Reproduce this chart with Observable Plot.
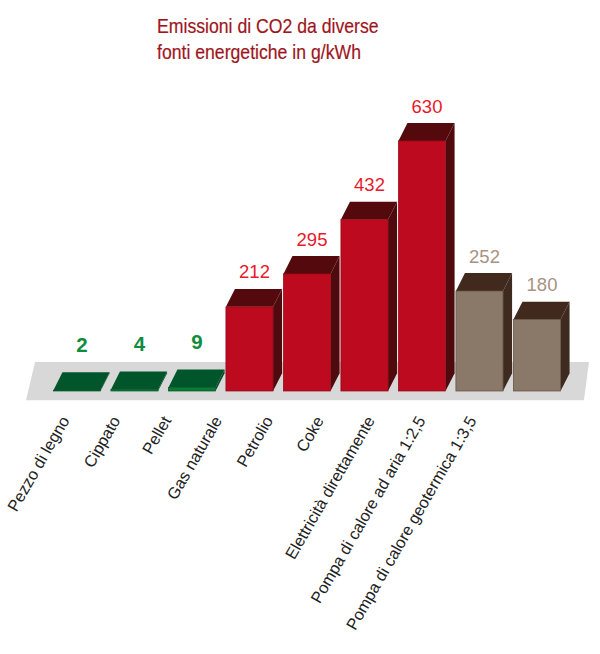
<!DOCTYPE html>
<html><head><meta charset="utf-8">
<script src="https://cdn.jsdelivr.net/npm/d3@7"></script>
<script src="https://cdn.jsdelivr.net/npm/@observablehq/plot@0.6"></script>
<style>
body{margin:0;background:#fff;}
#title{height:70px;box-sizing:border-box;padding-left:157px;padding-top:13px;font-family:"Liberation Sans",Arial,sans-serif;font-size:21px;line-height:26px;color:#9e1520;}
#title span{display:block;white-space:nowrap;transform:scaleX(0.84);transform-origin:0 0;-webkit-text-stroke:0.2px #9e1520;}
</style></head><body>
<div id="title"><span>Emissioni di CO2 da diverse</span><span>fonti energetiche in g/kWh</span></div>
<div id="chart"></div>
<script>
const categories = ["Pezzo di legno","Cippato","Pellet","Gas naturale","Petrolio","Coke","Elettricità direttamente","Pompa di calore ad aria 1:2,5","Pompa di calore geotermica 1:3,5"];
const values = [2, 4, 9, 212, 295, 432, 630, 252, 180];
const groups = ["legno","legno","legno","fossile","fossile","fossile","fossile","pompa","pompa"];

const palette = {
  legno:   {front:"#0b7a34", top:"#00562a", side:"#004a24", stroke:"#00562a", label:"#0f8c3c"},
  fossile: {front:"#be0a1e", top:"#540a0d", side:"#4e0a0c", stroke:"#8c0a16", label:"#e8192c"},
  pompa:   {front:"#8a7868", top:"#42291d", side:"#3e2a1f", stroke:"#5e4a3e", label:"#a89282"}
};

// 3D styling constants (in scale units)
const halfW = 0.41, depthX = 0.157, depthY = 45;
const labelY = -66, labelShrink = 0.885, labelShift = -0.21;

const bars = categories.map((c, i) => ({c, i, v: values[i], g: groups[i]}));
const topPts = bars.flatMap(b => [
  {i:b.i, g:b.g, x:b.i - halfW,          y1:b.v,          y2:b.v},
  {i:b.i, g:b.g, x:b.i - halfW + depthX, y1:b.v,          y2:b.v + depthY},
  {i:b.i, g:b.g, x:b.i + halfW,          y1:b.v,          y2:b.v + depthY},
  {i:b.i, g:b.g, x:b.i + halfW + depthX, y1:b.v + depthY, y2:b.v + depthY}
]);
const sidePts = bars.flatMap(b => [
  {i:b.i, g:b.g, x:b.i + halfW,          y1:0,      y2:b.v},
  {i:b.i, g:b.g, x:b.i + halfW + depthX, y1:depthY, y2:b.v + depthY}
]);
// grey floor
const floorPts = [
  {x:-0.887, y1:-23, y2:-23},
  {x:-0.730, y1:-23, y2:73},
  {x:8.817,  y1:-23, y2:73},
  {x:8.904,  y1:73,  y2:73}
];

const chart = Plot.plot({
  width: 600, height: 584, margin: 0,
  x: {domain: [-1.339, 9.096], axis: null},
  y: {domain: [-662.5, 808.6], axis: null},
  style: {fontFamily: "'Liberation Sans', Arial, sans-serif", background: "#fff"},
  marks: [
    Plot.areaY(floorPts, {x:"x", y1:"y1", y2:"y2", fill:"#d8d8d8"}),
    Plot.areaY(sidePts, {x:"x", y1:"y1", y2:"y2", z:"i", fill: d => palette[d.g].side}),
    Plot.areaY(topPts, {x:"x", y1:"y1", y2:"y2", z:"i", fill: d => palette[d.g].top}),
    Plot.rect(bars, {x1: d => d.i - halfW, x2: d => d.i + halfW, y1: 0, y2: "v",
      fill: d => palette[d.g].front, stroke: d => palette[d.g].stroke, strokeWidth: 0.7}),
    Plot.text(bars.filter(d => d.g === "legno"), {x: d => d.i + depthX/2, y: d => d.v + depthY, text: d => String(d.v),
      lineAnchor: "bottom", dy: -21, fontSize: 20.5, fontWeight: "bold", fill: d => palette[d.g].label}),
    Plot.text(bars.filter(d => d.g !== "legno"), {x: d => d.i + depthX/2, y: d => d.v + depthY, text: d => String(d.v),
      lineAnchor: "bottom", dy: -11, fontSize: 18.5, fill: d => palette[d.g].label}),
    Plot.text(bars, {x: d => d.i * labelShrink + labelShift, y: () => labelY, text: "c",
      rotate: -60, textAnchor: "end", lineAnchor: "middle", fontSize: 16.3, fill: "#222"})
  ]
});
document.getElementById("chart").appendChild(chart);
</script>
</body></html>
